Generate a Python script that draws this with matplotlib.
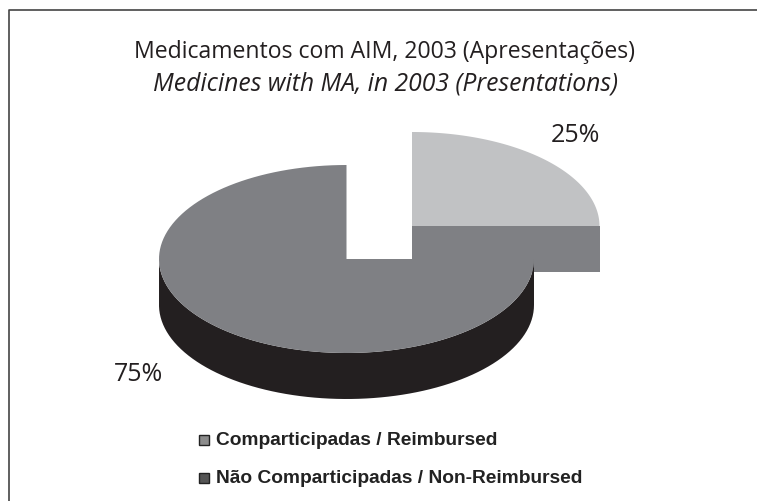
import numpy as np
import matplotlib
matplotlib.use("Agg")
import matplotlib.pyplot as plt
from matplotlib.patches import Rectangle, Polygon

# Data
shares = [25, 75]
share_labels = ["25%", "75%"]
title_pt = "Medicamentos com AIM, 2003 (Apresentações)"
title_en = "Medicines with MA, in 2003 (Presentations)"
legend_labels = ["Comparticipadas / Reimbursed", "Não Comparticipadas / Non-Reimbursed"]

light = "#c1c2c4"
mid = "#7f8084"
dark = "#231f20"

W, H = 757, 501
fig = plt.figure(figsize=(W / 100, H / 100), dpi=100)
ax = fig.add_axes([0, 0, 1, 1])
ax.set_xlim(0, W)
ax.set_ylim(H, 0)
ax.axis("off")

rx, ry = 187.5, 94
depth = 46


# angles measured clockwise from 12 o'clock, ellipse squashed for the 3d look
def arc(cx, cy, a0, a1, n=120):
    t = np.radians(np.linspace(a0, a1, n))
    return np.column_stack([cx + rx * np.sin(t), cy - ry * np.cos(t)])


def start_angle(i):
    return 360 * sum(shares[:i]) / sum(shares)


# big slice centre / exploded slice centre
cx, cy = 346.5, 259
ex, ey = 412, 226

big = arc(cx, cy, start_angle(1), start_angle(2))
small = arc(ex, ey, start_angle(0), start_angle(1))

# exploded slice: side wall then top
ax.add_patch(Rectangle((ex, ey), rx, depth, fc=mid, ec="none"))
ax.add_patch(Polygon(np.vstack([[ex, ey], small]), fc=light, ec="none"))

# dark rim of the big slice
vis = big[big[:, 1] >= cy]
rim = np.vstack([vis, vis[::-1] + [0, depth]])
ax.add_patch(Polygon(rim, fc=dark, ec="none"))

# top of big slice
ax.add_patch(Polygon(np.vstack([[cx, cy], big]), fc=mid, ec="none"))

# frame: top and left sides only
ax.plot([8.5, 8.5, W], [H, 9.5, 9.5], color="#444444", lw=1.2)

# titles
ax.text(385, 58, title_pt, ha="center", va="baseline", fontsize=16.6, family="Open Sans", color="#231f20")
ax.text(385.5, 90, title_en, ha="center", va="baseline", fontsize=17.8, family="Open Sans", style="italic", color="#231f20")

# slice labels
ax.text(575.5, 142.5, share_labels[0], ha="center", va="baseline", fontsize=18, family="Open Sans", color="#231f20")
ax.text(163, 381, share_labels[1], ha="right", va="baseline", fontsize=18, family="Open Sans", color="#231f20")

# legend
for y, c, txt in zip([440, 478], ["#8c8c8c", "#555555"], legend_labels):
    ax.add_patch(Rectangle((198.5, y - 5), 10, 10, fc=c, ec="#222222", lw=1))
    ax.text(216, y + 0.5, txt, ha="left", va="center", fontsize=13.8, family="Liberation Sans", weight="bold", color="#222222")

fig.savefig("out.png", dpi=100)
